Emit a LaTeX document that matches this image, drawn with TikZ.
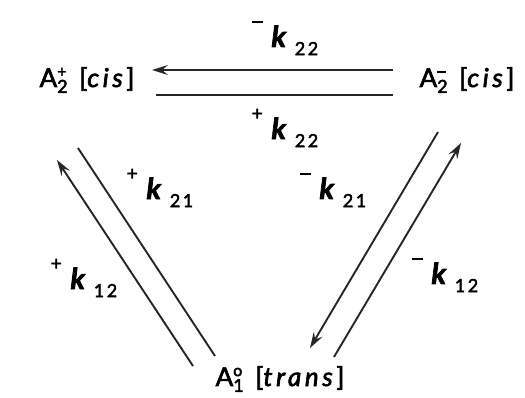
\documentclass[tikz,border=0pt]{standalone}
\usepackage{fontspec}
\setmainfont{Lato}[LetterSpace=14,FakeBold=2.5]
\usetikzlibrary{arrows.meta}
\newcommand{\mn}[1]{\rule[0.55ex]{#1}{1.6pt}}
\newcommand{\spA}[2]{A\makebox[0pt][l]{\raisebox{0.75ex}{\fontsize{16}{16}\selectfont #1}}\raisebox{-0.45ex}{\fontsize{18}{18}\selectfont #2}\hspace{0.45em}}
\newcommand{\rate}[2]{\raisebox{1.3ex}{\fontsize{19}{19}\selectfont #1}\hspace{0.3em}\textbf{\textit{k}}\hspace{0.15em}\raisebox{-0.55ex}{\fontsize{18}{18}\selectfont #2}}
\begin{document}
\begin{tikzpicture}[x=1pt,y=-1pt,
  lbl/.style={inner sep=0pt,font=\fontsize{26}{26}\selectfont},
  rl/.style={inner sep=0pt,font=\fontsize{29}{29}\selectfont},
  ln/.style={line width=1.9pt,draw=black!85},
  arr/.style={ln,-{Stealth[length=16pt,width=10pt,inset=6pt]}}]
\useasboundingbox (0,0) rectangle (525,398);
\node[lbl] (A2p) at (87,80) {\spA{+}{2}[\textit{cis}]};
\node[lbl] (A2m) at (467,80) {\spA{\mn{9pt}}{2}[\textit{cis}]};
\node[lbl] (A1) at (280,379) {\spA{o}{1}[\textit{trans}]};
% top pair
\coordinate (t1s) at (393,70); \coordinate (t1e) at (152,70);
\coordinate (t2s) at (156,95); \coordinate (t2e) at (393,95);
\draw[arr] (t1s) -- (t1e);
\draw[ln] (t2s) -- (t2e);
% left pair
\coordinate (l1s) at (193,366); \coordinate (l1e) at (57,160);
\coordinate (l2s) at (78,148); \coordinate (l2e) at (215,356);
\draw[arr] (l1s) -- (l1e);
\draw[ln] (l2s) -- (l2e);
% right pair
\coordinate (r1s) at (438,132); \coordinate (r1e) at (310,348);
\coordinate (r2s) at (334,357); \coordinate (r2e) at (461,143);
\draw[arr] (r1s) -- (r1e);
\draw[arr] (r2s) -- (r2e);
% labels
\node[rl] (km22) at (285,38) {\rate{\mn{11pt}}{22}};
\node[rl] (kp22) at (285,128) {\rate{+}{22}};
\node[rl] (kp21) at (160,188) {\rate{+}{21}};
\node[rl] (km21) at (333,190) {\rate{\mn{11pt}}{21}};
\node[rl] (kp12) at (84,278) {\rate{+}{12}};
\node[rl] (km12) at (445,275) {\rate{\mn{11pt}}{12}};
\end{tikzpicture}
\end{document}
